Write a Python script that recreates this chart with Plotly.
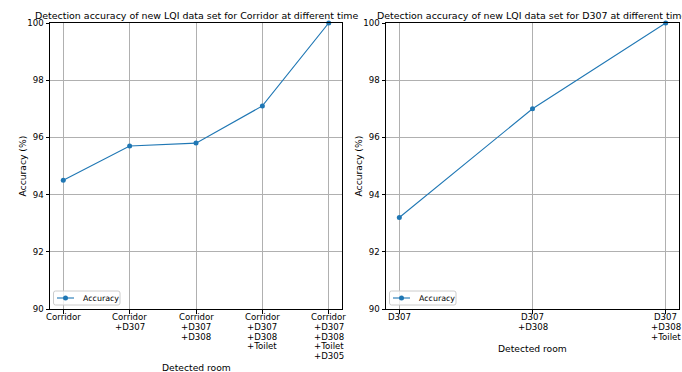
import plotly.graph_objects as go

# Detection accuracy data for the two experiments
corridor_rooms = ["Corridor", "Corridor\n+D307", "Corridor\n+D307\n+D308",
                  "Corridor\n+D307\n+D308\n+Toilet",
                  "Corridor\n+D307\n+D308\n+Toilet\n+D305"]
corridor_acc = [94.5, 95.7, 95.8, 97.1, 100.0]

d307_rooms = ["D307", "D307\n+D308", "D307\n+D308\n+Toilet"]
d307_acc = [93.2, 97.0, 100.0]

y_ticks = [90, 92, 94, 96, 98, 100]

W, H = 682, 372
FONT = "DejaVu Sans, sans-serif"
BLUE = "#1f77b4"

# axes boxes in pixels: (left, right, top, bottom)
box_l = (50, 342, 23, 309)
box_r = (386, 679, 23, 309)


def px(x):
    return x / W


def py(y):
    return (H - y) / H


def dom(box):
    l, r, t, b = box
    return [px(l), px(r)], [py(b), py(t)]


fig = go.Figure()
panels = [
    ("x", "y", corridor_rooms, corridor_acc, box_l,
     "Detection accuracy of new LQI data set for Corridor at different time", 367),
    ("x2", "y2", d307_rooms, d307_acc, box_r,
     "Detection accuracy of new LQI data set for D307 at different time", 348),
]

axis_common = dict(showline=True, mirror=True, linecolor="black", linewidth=1,
                   ticks="outside", ticklen=3.5, tickwidth=0.8, tickcolor="black",
                   showgrid=True, gridcolor="#b0b0b0", gridwidth=0.8,
                   zeroline=False, automargin=False, layer="above traces",
                   tickfont=dict(family=FONT, size=8.6, color="black"))

layout = dict(width=W, height=H, margin=dict(l=0, r=0, t=0, b=0),
              paper_bgcolor="white", plot_bgcolor="white", showlegend=False,
              font=dict(family=FONT, size=8.6, color="black"))
annotations = []
shapes = []
LINE_H = 9.8  # spacing between stacked tick-label lines, px

for xa, ya, rooms, acc, box, title, xlabel_y in panels:
    n = len(acc)
    pad = 0.05 * (n - 1)
    xd, yd = dom(box)
    xs = list(range(n))
    fig.add_trace(go.Scatter(
        x=xs, y=acc, mode="lines+markers", name="Accuracy",
        line=dict(color=BLUE, width=1.1), marker=dict(color=BLUE, size=5),
        xaxis=xa, yaxis=ya, cliponaxis=False))
    xkey = "xaxis" if xa == "x" else "xaxis" + xa[1:]
    ykey = "yaxis" if ya == "y" else "yaxis" + ya[1:]
    layout[xkey] = dict(domain=xd, anchor=ya, range=[-pad, n - 1 + pad],
                        tickvals=xs, showticklabels=False, **axis_common)
    layout[ykey] = dict(domain=yd, anchor=xa, range=[90, 100], tickvals=y_ticks,
                        **axis_common)

    l, r, t, b = box
    # stacked category labels under each tick
    for i, label in enumerate(rooms):
        for k, line in enumerate(label.split("\n")):
            annotations.append(dict(text=line, x=i, xref=xa, y=py(b + 8 + k * LINE_H),
                                    yref="paper", xanchor="center", yanchor="middle",
                                    showarrow=False, font=dict(family=FONT, size=8.6)))
    cx = px((l + r) / 2)
    annotations.append(dict(text=title, x=cx, y=py(t), xref="paper", yref="paper",
                            xanchor="center", yanchor="bottom", showarrow=False,
                            font=dict(family=FONT, size=9.45)))
    annotations.append(dict(text="Detected room", x=cx, y=py(xlabel_y), xref="paper",
                            yref="paper", xanchor="center", yanchor="middle", showarrow=False,
                            font=dict(family=FONT, size=9.2)))
    annotations.append(dict(text="Accuracy (%)", x=px(l - 28.5), y=py((t + b) / 2),
                            xref="paper", yref="paper", xanchor="center", yanchor="middle",
                            textangle=-90, showarrow=False, font=dict(family=FONT, size=9.2)))

    # legend box in the lower-left corner of the axes
    x0, x1, y0, y1, rr = l + 3.5, l + 70, b - 18, b - 4, 2.0
    path = (f"M {px(x0 + rr)},{py(y0)} L {px(x1 - rr)},{py(y0)} "
            f"Q {px(x1)},{py(y0)} {px(x1)},{py(y0 + rr)} L {px(x1)},{py(y1 - rr)} "
            f"Q {px(x1)},{py(y1)} {px(x1 - rr)},{py(y1)} L {px(x0 + rr)},{py(y1)} "
            f"Q {px(x0)},{py(y1)} {px(x0)},{py(y1 - rr)} L {px(x0)},{py(y0 + rr)} "
            f"Q {px(x0)},{py(y0)} {px(x0 + rr)},{py(y0)} Z")
    shapes.append(dict(type="path", path=path, xref="paper", yref="paper",
                       fillcolor="rgba(255,255,255,0.8)", line=dict(color="#cccccc", width=1)))
    ym = (y0 + y1) / 2
    shapes.append(dict(type="line", xref="paper", yref="paper", x0=px(l + 7), x1=px(l + 24),
                       y0=py(ym), y1=py(ym), line=dict(color=BLUE, width=1.1)))
    mx = l + 15.5
    shapes.append(dict(type="circle", xref="paper", yref="paper", x0=px(mx - 2.5),
                       x1=px(mx + 2.5), y0=py(ym - 2.5), y1=py(ym + 2.5),
                       fillcolor=BLUE, line=dict(width=0)))
    annotations.append(dict(text="Accuracy", x=px(l + 30.5), y=py(ym), xref="paper",
                            yref="paper", xanchor="left", yanchor="middle", showarrow=False,
                            font=dict(family=FONT, size=7.9)))

layout["annotations"] = annotations
layout["shapes"] = shapes
fig.update_layout(**layout)

fig.write_html("out.html")
